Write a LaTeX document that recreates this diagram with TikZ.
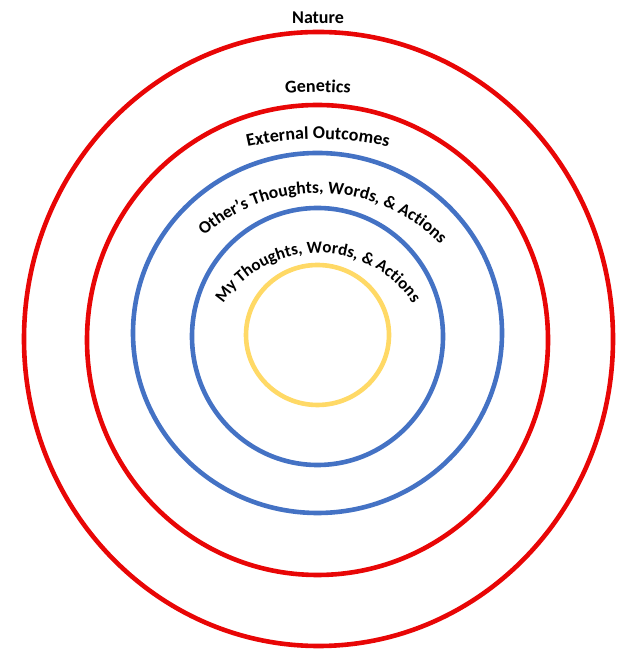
\documentclass[tikz,border=0pt]{standalone}
\usepackage{fontspec}
\setmainfont{Carlito}
\usetikzlibrary{decorations.text}
\definecolor{ringred}{RGB}{232,6,6}
\definecolor{ringblue}{RGB}{68,114,196}
\definecolor{ringyellow}{RGB}{255,217,102}
\newcommand{\lblfont}{\fontsize{18}{20}\selectfont\bfseries}
\newcommand{\midfont}{\fontsize{17.5}{20}\selectfont\bfseries}
\newcommand{\innfont}{\fontsize{17}{20}\selectfont\bfseries}
\tikzset{
  ring/.style={line width=4.6pt},
  arclabel/.style={decorate, decoration={text along path, text align=center,
     text format delimiters={[}{]}, text={#1}}}
}
\begin{document}
\begin{tikzpicture}[x=1pt,y=1pt]
\useasboundingbox (0,0) rectangle (631,660);
% rings
\draw[ring, ringred]    (318.5,321) ellipse[x radius=294.5, y radius=307];
\draw[ring, ringred]    (317.5,320) ellipse[x radius=230.5, y radius=235];
\draw[ring, ringblue]   (317.5,327) ellipse[x radius=184.5, y radius=180];
\draw[ring, ringblue]   (317.5,323.5) ellipse[x radius=125.5, y radius=128.5];
\draw[ring, ringyellow] (317.5,325) ellipse[x radius=71.5, y radius=70];
% labels
\node[anchor=base, font=\lblfont] (nature) at (318,636) {Nature};
\path[arclabel={[\lblfont]Genetics}] (318,260) ++(100:308) arc[start angle=100, end angle=80, radius=308];
\path[arclabel={[\lblfont]External Outcomes}] (318,204) ++(115:317) arc[start angle=115, end angle=65, radius=317];
\path[arclabel={[\midfont]Other’s Thoughts, Words, {\&} Actions}] (318,295) ++(158:172) arc[start angle=158, end angle=18, radius=172];
\path[arclabel={[\innfont]My Thoughts, Words, {\&} Actions}] (318,293) ++(165:114) arc[start angle=165, end angle=15, radius=114];
\end{tikzpicture}
\end{document}
